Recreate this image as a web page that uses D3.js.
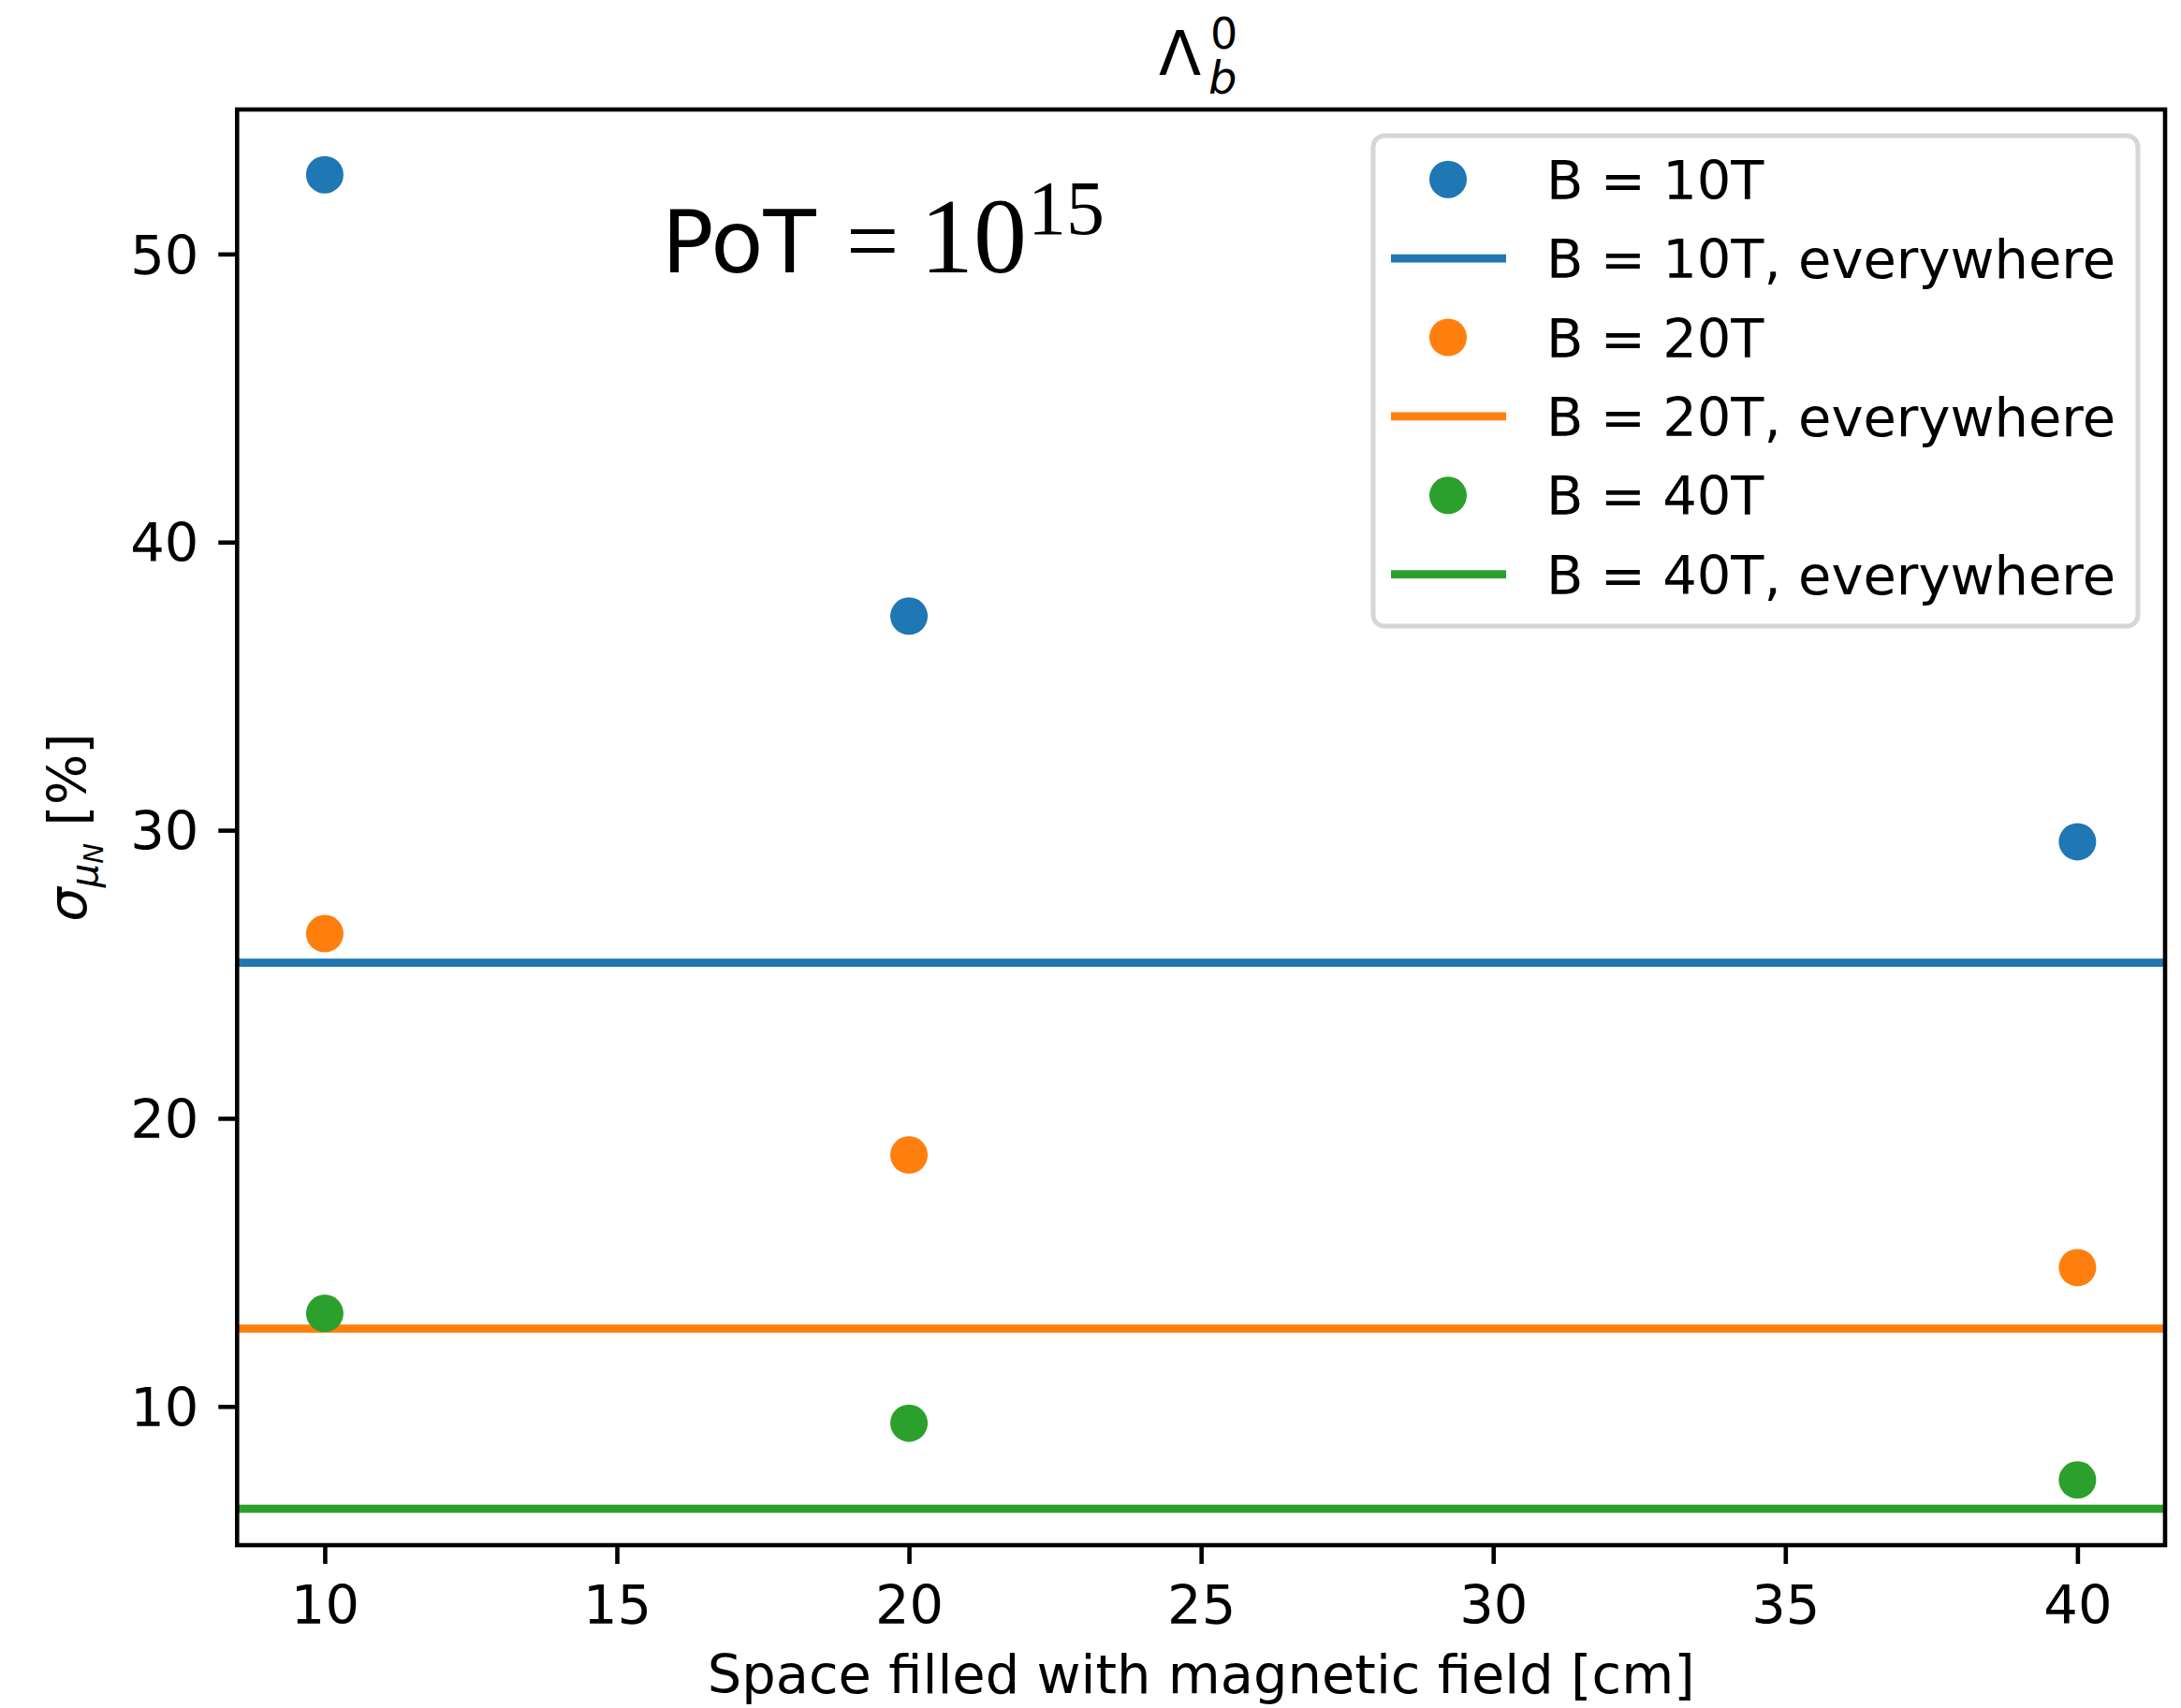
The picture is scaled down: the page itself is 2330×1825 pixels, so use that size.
<!DOCTYPE html>
<html>
<head>
<meta charset="utf-8">
<script src="https://cdn.jsdelivr.net/npm/d3@7"></script>
<style>
  body { margin: 0; background: #fff; }
</style>
</head>
<body>
<div id="chart"></div>
<script>
/* data */
const spaceCm = [10, 20, 40];
const sigmaB10 = [52.75, 37.43, 29.6];
const sigmaB20 = [26.41, 18.73, 14.82];
const sigmaB40 = [13.23, 9.42, 7.45];
const everywhere = [25.4, 12.7, 6.45];
const fieldLabels = ["B = 10T", "B = 20T", "B = 40T"];
const colors = ["#1f77b4", "#ff7f0e", "#2ca02c"];
const xTicks = [10, 15, 20, 25, 30, 35, 40];
const yTicks = [10, 20, 30, 40, 50];

/* svg size */
const width = 2330;
const height = 1825;
const margin = { left: 253.3, right: 2330 - 2313, top: 117, bottom: 1825 - 1651 };
const fontSize = 57.5;
const sans = "DejaVu Sans";
const serif = "Liberation Serif";

const series = [sigmaB10, sigmaB20, sigmaB40].map(function(vals, i) {
    return { label: fieldLabels[i], color: colors[i], line: everywhere[i],
             points: vals.map(function(v, j) { return { x: spaceCm[j], y: v }; }) };
});

/* matplotlib-like 5% margins */
const xMin = d3.min(spaceCm), xMax = d3.max(spaceCm);
const xPad = (xMax - xMin) * 0.05;
const allY = d3.merge([sigmaB10, sigmaB20, sigmaB40]);
const yMin = d3.min(allY), yMax = d3.max(allY);
const yPad = (yMax - yMin) * 0.05;

const x = d3.scaleLinear()
    .domain([xMin - xPad, xMax + xPad])
    .range([margin.left, width - margin.right]);

const y = d3.scaleLinear()
    .domain([yMin - yPad, yMax + yPad])
    .range([height - margin.bottom, margin.top]);

let svg = d3.select("#chart").append("svg")
    .attr("width", width)
    .attr("height", height)
    .style("font-family", sans);

svg.append("rect").attr("width", width).attr("height", height).attr("fill", "#fff");

/* horizontal "everywhere" lines */
svg.selectAll(".hline")
    .data(series)
    .enter().append("line")
    .attr("class", "hline")
    .attr("x1", x.range()[0])
    .attr("x2", x.range()[1])
    .attr("y1", function(d) { return y(d.line); })
    .attr("y2", function(d) { return y(d.line); })
    .attr("stroke", function(d) { return d.color; })
    .attr("stroke-width", 8.7);

/* points */
series.forEach(function(s) {
    svg.selectAll(null)
        .data(s.points)
        .enter().append("circle")
        .attr("cx", function(d) { return x(d.x); })
        .attr("cy", function(d) { return y(d.y); })
        .attr("r", 20)
        .attr("fill", s.color);
});

/* axes */
const xAxis = d3.axisBottom(x)
    .tickValues(xTicks)
    .tickFormat(d3.format("d"))
    .tickSize(20)
    .tickPadding(23)
    .tickSizeOuter(0);

const yAxis = d3.axisLeft(y)
    .tickValues(yTicks)
    .tickFormat(d3.format("d"))
    .tickSize(20)
    .tickPadding(21)
    .tickSizeOuter(0);

let gx = svg.append("g")
    .attr("transform", "translate(0," + (height - margin.bottom) + ")")
    .call(xAxis);

let gy = svg.append("g")
    .attr("transform", "translate(" + margin.left + ",0)")
    .call(yAxis);

[gx, gy].forEach(function(g) {
    g.attr("font-family", null).attr("font-size", null);
    g.select(".domain").remove();
    g.selectAll(".tick line").attr("stroke", "#000").attr("stroke-width", 4.6);
    g.selectAll(".tick text")
        .style("font-family", sans)
        .attr("font-size", fontSize)
        .attr("fill", "#000");
});
gy.selectAll(".tick text").attr("dy", "0.36em");

/* frame */
svg.append("rect")
    .attr("x", x.range()[0])
    .attr("y", margin.top)
    .attr("width", x.range()[1] - x.range()[0])
    .attr("height", height - margin.bottom - margin.top)
    .attr("fill", "none")
    .attr("stroke", "#000")
    .attr("stroke-width", 4.6);

/* axis labels */
svg.append("text")
    .attr("x", (x.range()[0] + x.range()[1]) / 2)
    .attr("y", 1809)
    .attr("text-anchor", "middle")
    .attr("font-size", fontSize)
    .text("Space filled with magnetic field [cm]");

let ylab = svg.append("text")
    .attr("transform", "translate(92," + ((margin.top + height - margin.bottom) / 2) + ") rotate(-90)")
    .attr("text-anchor", "middle")
    .attr("font-size", fontSize);
ylab.append("tspan").attr("font-style", "italic").text("σ");
ylab.append("tspan").attr("font-style", "italic").attr("font-size", 40).attr("dy", 12).text("μ");
ylab.append("tspan").attr("font-style", "italic").attr("font-size", 29).attr("dy", 6).text("N");
ylab.append("tspan").attr("dy", -18).text(" [%]");

/* title */
let title = svg.append("text").attr("y", 80);
title.append("tspan").attr("x", 1238).attr("font-size", 66).text("Λ");
title.append("tspan").attr("x", 1291).attr("dy", 20).attr("font-size", 48).attr("font-style", "italic").text("b");
title.append("tspan").attr("x", 1293).attr("dy", -48).attr("font-size", 46).text("0");

/* PoT annotation */
let pot = svg.append("text").attr("y", 291);
pot.append("tspan").attr("x", 707).attr("font-size", 92).text("PoT");
pot.append("tspan").attr("x", 904).style("font-family", serif).attr("font-size", 100).text("=");
pot.append("tspan").attr("x", 983).style("font-family", serif).attr("font-size", 114).text("10");
pot.append("tspan").attr("x", 1098).attr("dy", -41).style("font-family", serif).attr("font-size", 82).text("15");

/* legend */
const legendItems = [];
series.forEach(function(s) {
    legendItems.push({ label: s.label, color: s.color, kind: "dot" });
    legendItems.push({ label: s.label + ", everywhere", color: s.color, kind: "line" });
});

let legend = svg.append("g");
legend.append("rect")
    .attr("x", 1467)
    .attr("y", 145)
    .attr("width", 2284 - 1467)
    .attr("height", 669 - 145)
    .attr("rx", 12)
    .attr("fill", "#fff")
    .attr("stroke", "#d6d6d6")
    .attr("stroke-width", 5);

const rowY = d3.scaleLinear().domain([0, 1]).range([191.7, 276.1]);

let rows = legend.selectAll(".entry")
    .data(legendItems)
    .enter().append("g")
    .attr("class", "entry")
    .attr("transform", function(d, i) { return "translate(0," + rowY(i) + ")"; });

rows.filter(function(d) { return d.kind === "dot"; })
    .append("circle")
    .attr("cx", 1547)
    .attr("cy", 0)
    .attr("r", 20)
    .attr("fill", function(d) { return d.color; });

rows.filter(function(d) { return d.kind === "line"; })
    .append("line")
    .attr("x1", 1486)
    .attr("x2", 1609)
    .attr("stroke", function(d) { return d.color; })
    .attr("stroke-width", 8.7);

rows.append("text")
    .attr("x", 1652)
    .attr("y", 21)
    .attr("font-size", fontSize)
    .text(function(d) { return d.label; });
</script>
</body>
</html>
